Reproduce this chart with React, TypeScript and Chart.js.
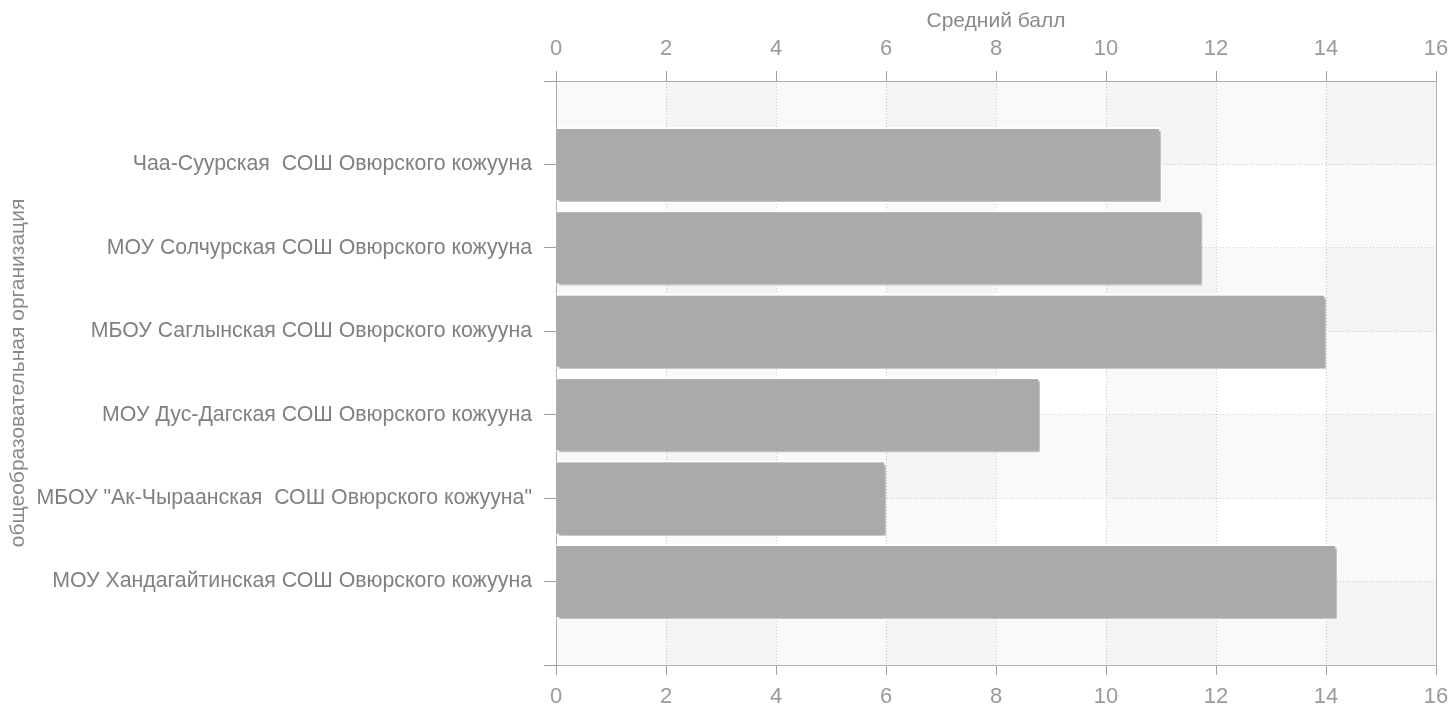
import React, { useEffect, useRef } from "react";
import { Chart, registerables } from "chart.js";

Chart.register(...registerables);

const categories: string[] = [
  "Чаа-Суурская  СОШ Овюрского кожууна",
  "МОУ Солчурская СОШ Овюрского кожууна",
  "МБОУ Саглынская СОШ Овюрского кожууна",
  "МОУ Дус-Дагская СОШ Овюрского кожууна",
  "МБОУ \"Ак-Чыраанская  СОШ Овюрского кожууна\"",
  "МОУ Хандагайтинская СОШ Овюрского кожууна",
];
const scores: number[] = [11, 11.75, 14, 8.8, 6, 14.2];
const xMin = 0;
const xMax = 16;
const xStep = 2;
const xTitle = "Средний балл";
const yTitle = "общеобразовательная организация";

const FONT = "'Liberation Sans', Arial, sans-serif";

const bandsPlugin = {
  id: "bands",
  beforeDatasetsDraw(chart: any) {
    const { ctx, chartArea } = chart;
    const xs = chart.scales.x;
    const ys = chart.scales.y;
    ctx.save();
    ctx.fillStyle = "rgba(0,0,0,0.025)";
    let k = 0;
    for (let v = xMin; v < xMax; v += xStep, k++) {
      if (k % 2 === 1) {
        const a = xs.getPixelForValue(v);
        const b = xs.getPixelForValue(v + xStep);
        ctx.fillRect(a, chartArea.top, b - a, chartArea.bottom - chartArea.top);
      }
    }
    const n = ys.getLabels().length;
    for (let i = 0; i < n - 1; i++) {
      if (i % 2 === 0) {
        const a = ys.getPixelForValue(i);
        const b = ys.getPixelForValue(i + 1);
        ctx.fillRect(chartArea.left, a, chartArea.right - chartArea.left, b - a);
      }
    }
    ctx.restore();
  },
};

const shadowPlugin = {
  id: "barShadow",
  beforeDatasetsDraw(chart: any) {
    const ctx = chart.ctx;
    ctx.save();
    ctx.shadowColor = "rgba(0,0,0,0.35)";
    ctx.shadowOffsetX = 2;
    ctx.shadowOffsetY = 2;
    ctx.shadowBlur = 2;
  },
  afterDatasetsDraw(chart: any) {
    chart.ctx.restore();
    const { ctx, chartArea } = chart;
    ctx.save();
    ctx.strokeStyle = "#b4b4b4";
    ctx.lineWidth = 1;
    ctx.beginPath();
    ctx.moveTo(chartArea.right + 0.5, chartArea.top);
    ctx.lineTo(chartArea.right + 0.5, chartArea.bottom);
    ctx.stroke();
    ctx.restore();
  },
};

export default function App() {
  const ref = useRef<HTMLCanvasElement | null>(null);

  useEffect(() => {
    if (!ref.current) return;
    const labels = ["", ...categories, ""];
    const data = [null, ...scores, null];
    const chart = new Chart(ref.current, {
      type: "bar",
      data: {
        labels,
        datasets: [
          {
            data,
            backgroundColor: "#aaaaaa",
            borderColor: "#ffffff",
            borderWidth: 2,
            barPercentage: 0.9,
            categoryPercentage: 1,
            xAxisID: "x",
          } as any,
        ],
      },
      plugins: [bandsPlugin, shadowPlugin],
      options: {
        indexAxis: "y",
        animation: false,
        responsive: true,
        maintainAspectRatio: false,
        layout: { padding: { left: 0, right: 12, top: 0, bottom: 0 } },
        plugins: {
          legend: { display: false },
          tooltip: { enabled: false },
        },
        scales: {
          x: {
            type: "linear",
            position: "bottom",
            min: xMin,
            max: xMax,
            ticks: {
              stepSize: xStep,
              color: "#9a9a9a",
              font: { family: FONT, size: 22 },
              padding: 9,
            },
            grid: {
              color: "#cfcfcf",
              tickColor: "#a0a0a0",
              tickLength: 10,
              tickBorderDash: [],
            },
            border: { color: "#b4b4b4", dash: [1, 2] },
            afterFit: (s: any) => {
              s.height = 40;
              s.paddingLeft = 0;
              s.paddingRight = 0;
            },
          },
          x2: {
            type: "linear",
            position: "top",
            min: xMin,
            max: xMax,
            ticks: {
              stepSize: xStep,
              color: "#9a9a9a",
              font: { family: FONT, size: 22 },
              padding: 9,
            },
            grid: {
              drawOnChartArea: false,
              tickColor: "#a0a0a0",
              tickLength: 10,
            },
            border: { color: "#b4b4b4" },
            title: {
              display: true,
              text: xTitle,
              color: "#8a8a8a",
              font: { family: FONT, size: 21 },
              padding: { top: 9, bottom: 0 },
            },
            afterFit: (s: any) => {
              s.height = 81;
              s.paddingLeft = 0;
              s.paddingRight = 0;
            },
          },
          y: {
            type: "category",
            offset: false,
            ticks: {
              color: "#808080",
              font: { family: FONT, size: 21.3 },
              padding: 12,
              autoSkip: false,
            },
            grid: {
              offset: false,
              color: "#cfcfcf",
              tickColor: "#a0a0a0",
              tickLength: 12,
              tickBorderDash: [],
            },
            border: { color: "#b4b4b4", dash: [1, 2] },
            title: {
              display: true,
              text: yTitle,
              color: "#8a8a8a",
              font: { family: FONT, size: 21 },
              padding: { top: 6, bottom: 0 },
            },
            afterFit: (s: any) => {
              s.width = 556;
              s.paddingTop = 0;
              s.paddingBottom = 0;
            },
          },
        },
      } as any,
    });
    return () => chart.destroy();
  }, []);

  return (
    <div
      style={{
        position: "absolute",
        left: 0,
        top: 0,
        width: 1448,
        height: 705,
        background: "#ffffff",
      }}
    >
      <canvas ref={ref} />
    </div>
  );
}
